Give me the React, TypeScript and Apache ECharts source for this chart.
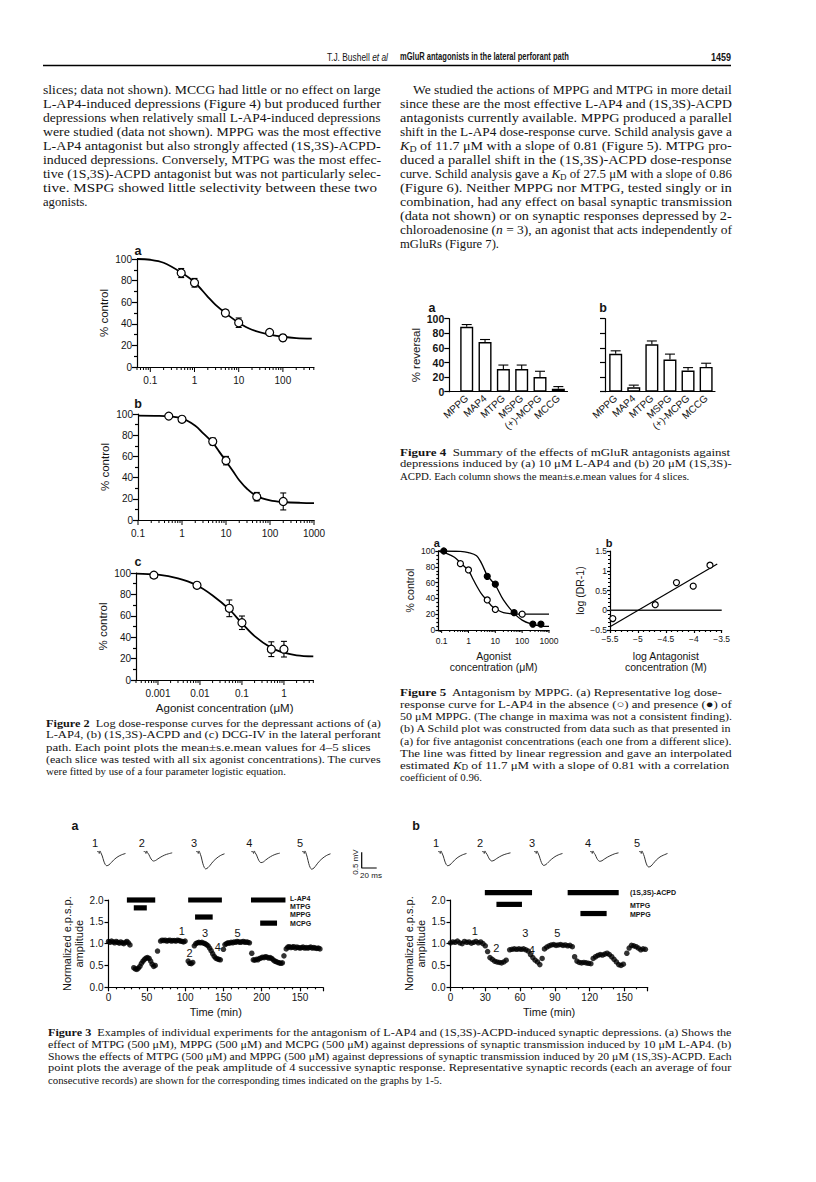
import React, { useEffect, useRef } from "react";
import * as echarts from "echarts";

const SERIF = '"Liberation Serif","Times New Roman",Times,serif';
const SANS = '"Liberation Sans",Arial,Helvetica,sans-serif';
const INK = "#141414";

/* ---------------- page text ---------------- */
const BODY_LEFT = [
  "slices; data not shown). MCCG had little or no effect on large",
  "L-AP4-induced depressions (Figure 4) but produced further",
  "depressions when relatively small L-AP4-induced depressions",
  "were studied (data not shown). MPPG was the most effective",
  "L-AP4 antagonist but also strongly affected (1S,3S)-ACPD-",
  "induced depressions. Conversely, MTPG was the most effec-",
  "tive (1S,3S)-ACPD antagonist but was not particularly selec-",
  "tive. MSPG showed little selectivity between these two",
  "agonists.",
];
const BODY_RIGHT = [
  "We studied the actions of MPPG and MTPG in more detail",
  "since these are the most effective L-AP4 and (1S,3S)-ACPD",
  "antagonists currently available. MPPG produced a parallel",
  "shift in the L-AP4 dose-response curve. Schild analysis gave a",
  "{i|K}{s|D} of 11.7 μM with a slope of 0.81 (Figure 5). MTPG pro-",
  "duced a parallel shift in the (1S,3S)-ACPD dose-response",
  "curve. Schild analysis gave a {i|K}{s|D} of 27.5 μM with a slope of 0.86",
  "(Figure 6). Neither MPPG nor MTPG, tested singly or in",
  "combination, had any effect on basal synaptic transmission",
  "(data not shown) or on synaptic responses depressed by 2-",
  "chloroadenosine ({i|n} = 3), an agonist that acts independently of",
  "mGluRs (Figure 7).",
];
const CAP2 = [
  "{b|Figure 2}  Log dose-response curves for the depressant actions of (a)",
  "L-AP4, (b) (1S,3S)-ACPD and (c) DCG-IV in the lateral perforant",
  "path. Each point plots the mean±s.e.mean values for 4–5 slices",
  "(each slice was tested with all six agonist concentrations). The curves",
  "were fitted by use of a four parameter logistic equation.",
];
const CAP4 = [
  "{b|Figure 4}  Summary of the effects of mGluR antagonists against",
  "depressions induced by (a) 10 μM L-AP4 and (b) 20 μM (1S,3S)-",
  "ACPD. Each column shows the mean±s.e.mean values for 4 slices.",
];
const CAP5 = [
  "{b|Figure 5}  Antagonism by MPPG. (a) Representative log dose-",
  "response curve for L-AP4 in the absence (○) and presence (●) of",
  "50 μM MPPG. (The change in maxima was not a consistent finding).",
  "(b) A Schild plot was constructed from data such as that presented in",
  "(a) for five antagonist concentrations (each one from a different slice).",
  "The line was fitted by linear regression and gave an interpolated",
  "estimated {i|K}{s|D} of 11.7 μM with a slope of 0.81 with a correlation",
  "coefficient of 0.96.",
];
const CAP3 = [
  "{b|Figure 3}  Examples of individual experiments for the antagonism of L-AP4 and (1S,3S)-ACPD-induced synaptic depressions. (a) Shows the",
  "effect of MTPG (500 μM), MPPG (500 μM) and MCPG (500 μM) against depressions of synaptic transmission induced by 10 μM L-AP4. (b)",
  "Shows the effects of MTPG (500 μM) and MPPG (500 μM) against depressions of synaptic transmission induced by 20 μM (1S,3S)-ACPD. Each",
  "point plots the average of the peak amplitude of 4 successive synaptic response. Representative synaptic records (each an average of four",
  "consecutive records) are shown for the corresponding times indicated on the graphs by 1-5.",
];

/* ---------------- Figure 2 data ---------------- */
const F2A_CONC = [0.5, 1, 5, 10, 50, 100];
const F2A_MEAN = [87, 78, 50, 41, 32, 27];
const F2A_SEM = [4.2, 4, 3, 4.4, 2.2, 2.8];
const F2A_CURVE = [[0.05, 100], [0.1, 99.3], [0.2, 96.5], [0.5, 87.5], [1, 78.5], [2, 65], [3, 57.5], [5, 50], [10, 41], [20, 34.5], [50, 30], [100, 28], [200, 26.8], [450, 26.3]];
const F2A_XLABELS = [0.1, 1, 10, 100];

const F2B_CONC = [0.5, 1, 5, 10, 50, 200];
const F2B_MEAN = [98, 95, 74, 56, 22, 17.5];
const F2B_SEM = [1.2, 1.2, 3.3, 4, 4, 8];
const F2B_CURVE = [[0.1, 98.5], [0.3, 98.3], [0.5, 97.8], [1, 95.8], [2, 89], [3, 82], [5, 73], [7, 64.5], [10, 55.5], [15, 45], [20, 37.5], [30, 29.5], [50, 22.5], [100, 18.5], [200, 17], [500, 16.2], [1000, 16]];
const F2B_XLABELS = [0.1, 1, 10, 100, 1000];

const F2C_CONC = [0.0008, 0.0085, 0.05, 0.1, 0.5, 1];
const F2C_MEAN = [98, 88.5, 67, 53.5, 28.8, 28.8];
const F2C_SEM = [1, 1.2, 7.8, 6.3, 6.9, 7.3];
const F2C_CURVE = [[0.0003, 99.5], [0.001, 98.5], [0.003, 95], [0.008, 89], [0.02, 79], [0.05, 66], [0.1, 53], [0.2, 41], [0.5, 30], [1, 25.5], [2, 23], [5, 22]];
const F2C_XLABELS = [0.001, 0.01, 0.1, 1];

/* ---------------- Figure 4 data ---------------- */
const F4_DRUGS = ["MPPG", "MAP4", "MTPG", "MSPG", "(+)-MCPG", "MCCG"];
const F4A_MEAN = [89, 68, 31, 31, 20, 4];
const F4A_SEM = [3, 3.5, 5.5, 5.5, 8, 3];
const F4B_MEAN = [52, 6, 65, 44, 29, 34];
const F4B_SEM = [4, 3, 4.5, 7.5, 4, 5];

/* ---------------- Figure 5 data ---------------- */
const F5A_OPEN_CONC = [0.5, 1, 5, 10, 100];
const F5A_OPEN_Y = [84, 76, 38, 26, 20];
const F5A_FILLED_CONC = [0.12, 5, 10, 50, 250, 500];
const F5A_FILLED_Y = [100, 68, 58, 22, 7.5, 7.5];
const F5A_OPEN_CURVE = [[0.075, 100], [0.15, 97], [0.3, 92], [0.5, 85], [1, 75], [1.5, 64], [2, 56], [3, 46], [5, 37], [7, 31], [10, 27], [20, 22], [50, 20.3], [100, 20], [1000, 20]];
const F5A_FILLED_CURVE = [[0.075, 100], [0.5, 99.5], [1, 98], [2, 94], [3, 85], [5, 69], [7, 63], [10, 57], [20, 38], [50, 21], [100, 12.5], [200, 8], [500, 5], [1000, 4.5]];
const F5A_XLABELS = [0.1, 1, 10, 100, 1000];
const F5B_LOGB = [-5.45, -4.69, -4.31, -4.01, -3.71];
const F5B_LOGDR = [-0.21, 0.14, 0.7, 0.61, 1.14];
const F5B_FIT = [[-5.5, -0.42], [-3.58, 1.17]];
const F5B_ZERO = [[-5.5, 0], [-3.5, 0]];

/* ---------------- Figure 3 data ---------------- */
const F3A_POINTS = [
  [0, 1.05], [2, 1.03], [4, 1.06], [6, 1.04], [8, 1.02], [10, 1.05], [12, 1.03], [14, 1.01], [16, 1.04], [18, 1.02], [20, 1.0], [22, 1.03], [24, 1.05], [26, 1.02], [28, 0.97],
  [33, 0.45], [35, 0.42], [37, 0.41], [39, 0.44], [41, 0.48], [43, 0.55], [45, 0.6], [47, 0.64], [49, 0.67], [51, 0.68], [53, 0.66], [55, 0.6], [57, 0.53], [59, 0.48], [61, 0.5],
  [64, 0.83],
  [68, 1.06], [70, 1.08], [72, 1.07], [74, 1.08], [76, 1.06], [78, 1.07], [80, 1.08], [82, 1.06], [84, 1.07], [86, 1.07], [88, 1.06], [90, 1.08], [92, 1.07], [94, 1.06], [96, 1.05], [98, 1.04], [100, 1.06],
  [104, 0.6], [106, 0.55], [108, 0.54], [110, 0.57],
  [112, 0.95], [114, 1.0], [116, 1.02], [118, 1.03], [120, 1.02], [122, 1.03], [124, 1.01], [126, 1.0], [128, 0.98], [130, 0.95], [132, 0.9], [134, 0.84], [136, 0.77], [138, 0.71], [140, 0.67], [142, 0.65], [144, 0.64], [146, 0.63],
  [150, 0.87],
  [152, 0.98], [154, 1.0], [156, 1.02], [158, 1.01], [160, 1.03], [162, 1.02], [164, 1.04], [166, 1.03], [168, 1.05], [170, 1.04], [172, 1.03], [174, 1.04], [176, 1.05], [178, 1.03], [180, 1.04], [182, 1.03], [184, 1.02],
  [187, 0.78],
  [189, 0.63], [191, 0.62], [193, 0.64], [195, 0.63], [197, 0.66], [199, 0.67], [201, 0.69], [203, 0.68], [205, 0.7], [207, 0.69], [209, 0.67], [211, 0.68], [213, 0.66],
  [215, 0.63], [217, 0.6], [219, 0.59], [221, 0.57], [223, 0.56], [225, 0.55], [227, 0.56],
  [229, 0.72],
  [232, 0.88], [234, 0.92], [236, 0.93], [238, 0.91], [240, 0.92], [242, 0.93], [244, 0.9], [246, 0.92], [248, 0.91], [250, 0.9], [252, 0.91], [254, 0.92], [256, 0.9], [258, 0.91], [260, 0.9], [262, 0.91], [264, 0.92], [266, 0.9], [268, 0.91], [270, 0.9], [272, 0.89], [274, 0.9], [276, 0.88],
];
const F3A_XTICKS = [0, 50, 100, 150, 200, 250];
const F3A_XLABELS = ["0", "50", "100", "150", "200", "150"];
const F3A_BARS = [[24, 61, 2.0], [104, 148, 2.0], [186, 231, 2.0], [33, 50, 1.82], [113, 136, 1.61], [198, 220, 1.47]];
const F3A_LEGEND = ["L-AP4", "MTPG", "MPPG", "MCPG"];
const F3A_LEGEND_Y = [2.03, 1.845, 1.66, 1.475];
const F3A_LEGEND_T = 237;
const F3A_MARKS = ["1", "2", "3", "4", "5"];
const F3A_MARK_T = [95.7, 105.7, 126, 142.7, 168.4];
const F3A_MARK_Y = [1.3, 0.79, 1.25, 0.93, 1.25];

const F3B_POINTS = [
  [0, 1.02], [2, 1.04], [4, 1.03], [6, 1.06], [8, 1.02], [10, 1.0], [12, 1.05], [14, 1.03], [16, 1.04], [18, 1.01], [20, 1.03], [22, 1.05], [24, 1.02], [26, 1.04], [28, 1.0],
  [30, 0.95], [32, 0.82], [34, 0.68], [36, 0.64], [38, 0.6], [40, 0.58], [42, 0.57], [44, 0.56], [46, 0.58], [48, 0.62],
  [51, 0.86], [53, 0.87], [55, 0.88], [57, 0.87], [59, 0.88], [61, 0.87], [63, 0.88], [65, 0.86],
  [67, 0.83], [69, 0.75], [71, 0.68], [73, 0.62], [75, 0.58], [77, 0.52], [79, 0.66],
  [81, 0.88], [83, 0.92], [85, 0.95], [87, 0.97], [89, 0.98], [91, 0.96], [93, 0.97], [95, 0.98], [97, 0.96], [99, 0.97], [101, 0.95], [103, 0.96], [105, 0.93],
  [107, 0.7], [109, 0.6], [111, 0.57], [113, 0.56], [115, 0.57], [117, 0.56], [119, 0.55], [121, 0.54],
  [123, 0.66], [125, 0.7], [127, 0.73], [129, 0.75], [131, 0.74], [133, 0.76], [135, 0.78], [137, 0.75], [139, 0.7], [141, 0.64], [143, 0.58], [145, 0.52], [147, 0.5], [149, 0.53],
  [152, 0.78], [154, 0.9], [156, 0.96], [158, 0.95], [160, 0.93], [162, 0.9], [164, 0.86], [166, 0.88], [168, 0.87],
];
const F3B_XTICKS = [0, 30, 60, 90, 120, 150];
const F3B_XLABELS = ["0", "30", "60", "90", "120", "150"];
const F3B_BARS = [[29.6, 70.3, 2.17], [101, 145, 2.17], [39.6, 61.6, 1.9], [112, 134.6, 1.69]];
const F3B_LEGEND = ["{n|(1}{b|S}{n|,3}{b|S}{n|)-ACPD}", "MTPG", "MPPG"];
const F3B_LEGEND_Y = [2.17, 1.87, 1.66];
const F3B_LEGEND_T = 154.7;
const F3B_MARKS = ["1", "2", "3", "4", "5"];
const F3B_MARK_T = [21, 39.5, 64.5, 70, 92];
const F3B_MARK_Y = [1.3, 0.9, 1.24, 0.86, 1.24];

/* synaptic records (ms, mV) */
const TRACE_A1 = [[0, 0], [2, 0], [3, -0.06], [4, 0.02], [5, -0.03], [7, -0.14], [9, -0.3], [11, -0.41], [13, -0.45], [16, -0.42], [19, -0.35], [23, -0.25], [28, -0.16], [33, -0.1], [38, -0.06]];
const TRACE_A2 = [[0, 0], [2, 0], [3, -0.06], [4, 0.02], [5, -0.03], [7, -0.1], [9, -0.2], [11, -0.27], [13, -0.3], [16, -0.28], [19, -0.23], [23, -0.17], [28, -0.11], [33, -0.07], [38, -0.04]];
const TRACE_A3 = [[0, 0], [2, 0], [3, -0.06], [4, 0.02], [5, -0.03], [7, -0.17], [9, -0.37], [11, -0.5], [13, -0.55], [16, -0.51], [19, -0.43], [23, -0.31], [28, -0.2], [33, -0.12], [38, -0.07]];
const TRACE_A4 = [[0, 0], [2, 0], [3, -0.06], [4, 0.02], [5, -0.03], [7, -0.11], [9, -0.23], [11, -0.32], [13, -0.35], [16, -0.33], [19, -0.27], [23, -0.2], [28, -0.13], [33, -0.08], [38, -0.05]];
const TRACE_A5 = [[0, 0], [2, 0], [3, -0.06], [4, 0.02], [5, -0.03], [7, -0.18], [9, -0.38], [11, -0.51], [13, -0.56], [16, -0.52], [19, -0.43], [23, -0.31], [28, -0.2], [33, -0.12], [38, -0.07]];
const TRACE_B1 = [[0, 0], [2, 0], [3, -0.06], [4, 0.02], [5, -0.03], [7, -0.14], [9, -0.3], [11, -0.41], [13, -0.45], [16, -0.42], [19, -0.35], [23, -0.25], [28, -0.16], [33, -0.1], [38, -0.06]];
const TRACE_B2 = [[0, 0], [2, 0], [3, -0.06], [4, 0.02], [5, -0.03], [7, -0.1], [9, -0.2], [11, -0.27], [13, -0.3], [16, -0.28], [19, -0.23], [23, -0.17], [28, -0.11], [33, -0.07], [38, -0.04]];
const TRACE_B3 = [[0, 0], [2, 0], [3, -0.06], [4, 0.02], [5, -0.03], [7, -0.14], [9, -0.29], [11, -0.4], [13, -0.44], [16, -0.41], [19, -0.34], [23, -0.25], [28, -0.16], [33, -0.1], [38, -0.06]];
const TRACE_B4 = [[0, 0], [2, 0], [3, -0.06], [4, 0.02], [5, -0.03], [7, -0.1], [9, -0.21], [11, -0.28], [13, -0.31], [16, -0.29], [19, -0.24], [23, -0.18], [28, -0.12], [33, -0.07], [38, -0.04]];
const TRACE_B5 = [[0, 0], [2, 0], [3, -0.06], [4, 0.02], [5, -0.03], [7, -0.15], [9, -0.33], [11, -0.45], [13, -0.49], [16, -0.46], [19, -0.38], [23, -0.27], [28, -0.17], [33, -0.11], [38, -0.06]];
const SCALE_BAR = [[0, 0.5], [0, 0], [20, 0]];

/* ---------------- helpers ---------------- */
const AX = { color: "#000", width: 1.2 };

let measureCtx: any = null;
function textWidth(line: string, size: number, family: string, weight = "normal") {
  if (!measureCtx) measureCtx = document.createElement("canvas").getContext("2d");
  let total = 0;
  const re = /\{(\w)\|([^}]*)\}/g;
  let last = 0;
  let m: any;
  const seg = (t: string, st: string, w: string, sz: number) => {
    measureCtx.font = `${st} ${w} ${sz}px ${family}`;
    total += measureCtx.measureText(t).width;
  };
  while ((m = re.exec(line))) {
    if (m.index > last) seg(line.slice(last, m.index), "normal", weight, size);
    const tag = m[1];
    if (tag === "b") seg(m[2], "normal", "bold", size);
    else if (tag === "i") seg(m[2], "italic", weight, size);
    else if (tag === "s") seg(m[2], "normal", weight, size * 0.7);
    else seg(m[2], "normal", weight, size);
    last = m.index + m[0].length;
  }
  if (last < line.length) seg(line.slice(last), "normal", weight, size);
  return total;
}

const labelFor = (v: number, list: number[]) => {
  const hit = list.find((l) => Math.abs(Math.log10(l) - Math.log10(v)) < 1e-6);
  return hit === undefined ? "" : String(hit);
};

function logTicks(min: number, max: number) {
  const out: number[][] = [];
  for (let e = Math.floor(Math.log10(min)) - 1; e <= Math.ceil(Math.log10(max)); e++) {
    for (let m = 1; m <= 9; m++) {
      const v = m * Math.pow(10, e);
      if (v >= min * 0.999 && v <= max * 1.001) out.push([v, 0, m === 1 ? 1 : 0]);
    }
  }
  return out;
}

function logAxis(min: number, max: number, labels: number[], fontSize: number, margin: number, extra: any = {}) {
  return {
    type: "log", logBase: 10, min, max,
    axisLine: { show: true, onZero: false, lineStyle: AX },
    axisTick: { show: false }, minorTick: { show: false }, splitLine: { show: false },
    axisLabel: { margin, fontSize, fontFamily: SANS, color: INK, formatter: (v: number) => labelFor(v, labels) },
    ...extra,
  };
}

function valAxis(o: any) {
  const ax: any = {
    type: "value", min: o.min, max: o.max, interval: o.interval,
    axisLine: { show: true, onZero: false, lineStyle: AX },
    axisTick: { show: true, length: o.tick ?? 4, lineStyle: AX },
    minorTick: { show: !!o.minor, splitNumber: o.minor || 2, length: o.minorLen ?? 2, lineStyle: AX },
    splitLine: { show: false }, minorSplitLine: { show: false },
    axisLabel: { show: o.labels !== false, margin: o.margin ?? 5, fontSize: o.fontSize ?? 10, fontFamily: SANS, color: INK, fontWeight: o.bold ? "bold" : "normal", showMaxLabel: o.showMax ?? true },
  };
  if (o.formatter) ax.axisLabel.formatter = o.formatter;
  if (o.name) {
    ax.name = o.name;
    ax.nameLocation = "middle";
    ax.nameGap = o.nameGap;
    if (o.nameRotate !== undefined) ax.nameRotate = o.nameRotate;
    ax.nameTextStyle = { fontSize: o.nameSize ?? 11, fontFamily: SANS, color: INK, lineHeight: o.nameLH ?? 13 };
  }
  return ax;
}

const hidden = (min: number, max: number) => ({ type: "value", show: false, min, max });

function tickSeries(gi: number, data: number[][], majorLen: number, minorLen: number) {
  return {
    type: "custom", xAxisIndex: gi, yAxisIndex: gi, clip: false, silent: true, z: 3, data,
    renderItem: (_p: any, api: any) => {
      const c = api.coord([api.value(0), api.value(1)]);
      const len = api.value(2) ? majorLen : minorLen;
      return { type: "line", shape: { x1: c[0], y1: c[1], x2: c[0], y2: c[1] + len }, style: { stroke: "#000", lineWidth: 1 } };
    },
  };
}

function errSeries(gi: number, xs: number[], ys: number[], es: number[], cap: number, upOnly: boolean) {
  return {
    type: "custom", xAxisIndex: gi, yAxisIndex: gi, clip: false, silent: true, z: 4,
    data: xs.map((x, i) => [x, ys[i], es[i]]),
    renderItem: (_p: any, api: any) => {
      const x = api.value(0), m = api.value(1), s = api.value(2);
      const top = api.coord([x, m + s]);
      const bot = api.coord([x, upOnly ? m : m - s]);
      const st = { stroke: "#000", lineWidth: 1.1 };
      const kids: any[] = [
        { type: "line", shape: { x1: top[0], y1: top[1], x2: bot[0], y2: bot[1] }, style: st },
        { type: "line", shape: { x1: top[0] - cap, y1: top[1], x2: top[0] + cap, y2: top[1] }, style: st },
      ];
      if (!upOnly) kids.push({ type: "line", shape: { x1: bot[0] - cap, y1: bot[1], x2: bot[0] + cap, y2: bot[1] }, style: st });
      return { type: "group", children: kids };
    },
  };
}

function circles(gi: number, xs: number[], ys: number[], size: number, filled: boolean, z = 6) {
  return {
    type: "scatter", xAxisIndex: gi, yAxisIndex: gi, silent: true, z,
    data: xs.map((x, i) => [x, ys[i]]),
    symbol: "circle", symbolSize: size,
    itemStyle: { color: filled ? "#000" : "#fff", borderColor: "#000", borderWidth: 1.2, opacity: 1 },
  };
}

function curve(gi: number, data: number[][], width: number) {
  return {
    type: "line", xAxisIndex: gi, yAxisIndex: gi, silent: true, z: 2, data, smooth: 0.35,
    showSymbol: false, symbol: "none", lineStyle: { color: "#000", width },
  };
}

function textSeries(gi: number, xs: number[], ys: number[], labels: string[], style: any, scaleX = 1) {
  return {
    type: "custom", xAxisIndex: gi, yAxisIndex: gi, clip: false, silent: true, z: 7,
    data: xs.map((x, i) => [x, ys[i]]),
    renderItem: (p: any, api: any) => {
      const c = api.coord([api.value(0), api.value(1)]);
      return { type: "text", x: c[0], y: c[1], scaleX, style: { text: labels[p.dataIndex], ...style } };
    },
  };
}

function barsSeries(gi: number, bars: number[][]) {
  return {
    type: "custom", xAxisIndex: gi, yAxisIndex: gi, clip: false, silent: true, z: 4, data: bars,
    encode: { x: [0, 1], y: 2 },
    renderItem: (_p: any, api: any) => {
      const a = api.coord([api.value(0), api.value(2)]);
      const b = api.coord([api.value(1), api.value(2)]);
      return { type: "rect", shape: { x: a[0], y: a[1] - 2.6, width: b[0] - a[0], height: 5.2 }, style: { fill: "#000" } };
    },
  };
}

function T(x: number, y: number, text: string, o: any = {}) {
  const style: any = {
    text, fontSize: o.size ?? 12, fontFamily: o.family ?? SERIF, fontWeight: o.weight ?? "normal",
    fontStyle: o.fstyle ?? "normal", fill: INK, align: o.align ?? "left", verticalAlign: "middle",
  };
  if (o.rich) style.rich = o.rich;
  return { type: "text", x, y, rotation: o.rot ?? 0, scaleX: o.sx ?? 1, silent: true, z: 10, style };
}

function richFor(size: number) {
  return {
    b: { fontWeight: "bold", fontSize: size, fontFamily: SERIF, fill: INK },
    i: { fontStyle: "italic", fontSize: size, fontFamily: SERIF, fill: INK },
    s: { fontSize: size * 0.7, fontFamily: SERIF, fill: INK, padding: [size * 0.45, 0, 0, 0] },
  };
}

/* justified paragraph lines: each line is stretched to the column width (last line left natural) */
function paragraph(graphic: any[], lines: string[], x: number, width: number, y0: number, lead: number, size: number, indent = 0) {
  const rich = richFor(size);
  lines.forEach((line, k) => {
    const lx = k === 0 ? x + indent : x;
    const target = k === 0 ? width - indent : width;
    const w = textWidth(line, size, SERIF);
    let sx = target / w;
    if (k === lines.length - 1) sx = Math.min(1, sx);
    sx = Math.max(0.86, Math.min(1.2, sx));
    graphic.push(T(lx, y0 + lead * k, line, { size, rich, sx }));
  });
}

function buildOption() {
  const grid: any[] = [], xAxis: any[] = [], yAxis: any[] = [], series: any[] = [], graphic: any[] = [];
  const add = (rect: any, xa: any, ya: any) => {
    const i = grid.length;
    grid.push({ ...rect, containLabel: false });
    xAxis.push({ gridIndex: i, ...xa });
    yAxis.push({ gridIndex: i, ...ya });
    return i;
  };
  const letter = (x: number, y: number, s: string, size = 12.5) => graphic.push(T(x, y, s, { family: SANS, weight: "bold", size, align: "center" }));

  /* ---------- Figure 2 ---------- */
  const f2 = [
    { rect: { left: 137, top: 259, width: 176.8, height: 108 }, min: 0.05, max: 500, labels: F2A_XLABELS, conc: F2A_CONC, mean: F2A_MEAN, sem: F2A_SEM, curve: F2A_CURVE, title: false },
    { rect: { left: 138, top: 414, width: 176, height: 106 }, min: 0.1, max: 1000, labels: F2B_XLABELS, conc: F2B_CONC, mean: F2B_MEAN, sem: F2B_SEM, curve: F2B_CURVE, title: false },
    { rect: { left: 136, top: 573, width: 177.3, height: 107 }, min: 0.0003, max: 5, labels: F2C_XLABELS, conc: F2C_CONC, mean: F2C_MEAN, sem: F2C_SEM, curve: F2C_CURVE, title: true },
  ];
  f2.forEach((p) => {
    const extra: any = p.title
      ? { name: "Agonist concentration (μM)", nameLocation: "middle", nameGap: 22, nameTextStyle: { fontSize: 11.5, fontFamily: SANS, color: INK } }
      : {};
    const gi = add(p.rect, logAxis(p.min, p.max, p.labels, 10, 8, extra),
      valAxis({ min: 0, max: 100, interval: 20, minor: 2, tick: 5, minorLen: 3, fontSize: 10, margin: 5, name: "% control", nameGap: 27, nameRotate: 90, nameSize: 11.5 }));
    series.push(tickSeries(gi, logTicks(p.min, p.max), 5, 3));
    series.push(curve(gi, p.curve, 1.8));
    series.push(errSeries(gi, p.conc, p.mean, p.sem, 3, false));
    series.push(circles(gi, p.conc, p.mean, 8, false));
  });
  letter(138, 251, "a");
  letter(138, 404, "b");
  letter(138, 562, "c");

  /* ---------- Figure 4 ---------- */
  const f4 = [
    { left: 449.3, width: 118.2, min: -0.95, max: 5.5, lblLeft: 457.5, lblWidth: 110, mean: F4A_MEAN, sem: F4A_SEM, labels: true },
    { left: 605, width: 110, min: -0.59, max: 5.49, lblLeft: 606.7, lblWidth: 108.4, mean: F4B_MEAN, sem: F4B_SEM, labels: false },
  ];
  f4.forEach((p) => {
    const gi = add({ left: p.left, top: 318.7, width: p.width, height: 73 },
      { type: "value", min: p.min, max: p.max, axisLine: { show: true, onZero: false, lineStyle: AX }, axisTick: { show: false }, axisLabel: { show: false }, splitLine: { show: false } },
      valAxis({ min: 0, max: 100, interval: 20, tick: 5, fontSize: 10.5, bold: true, margin: 5, labels: p.labels,
        name: p.labels ? "% reversal" : undefined, nameGap: 23, nameRotate: 90, nameSize: 11.5 }));
    const idx = F4_DRUGS.map((_d, i) => i);
    series.push({
      type: "bar", xAxisIndex: gi, yAxisIndex: gi, silent: true, z: 3, barWidth: 13,
      data: idx.map((i) => [i, p.mean[i]]),
      itemStyle: { color: "#fff", borderColor: "#000", borderWidth: 1.4 },
    });
    series.push(errSeries(gi, idx, p.mean, p.sem, 5, true));
    add({ left: p.lblLeft, top: 391.7, width: p.lblWidth, height: 1 },
      { type: "category", data: F4_DRUGS, boundaryGap: true, axisLine: { show: false }, axisTick: { show: false }, splitLine: { show: false },
        axisLabel: { rotate: 42, interval: 0, margin: 4, fontSize: 10, fontFamily: SANS, color: INK } },
      hidden(0, 1));
  });
  letter(432, 308, "a");
  letter(603, 308, "b");

  /* ---------- Figure 5 ---------- */
  {
    const gi = add({ left: 438.3, top: 551, width: 110.7, height: 79 },
      logAxis(0.075, 1000, F5A_XLABELS, 8.5, 6, { name: "Agonist\nconcentration (μM)", nameLocation: "middle", nameGap: 20, nameTextStyle: { fontSize: 10.5, fontFamily: SANS, color: INK, lineHeight: 11 } }),
      valAxis({ min: 0, max: 100, interval: 20, minor: 4, tick: 3, minorLen: 2, fontSize: 8.5, margin: 3, name: "% control", nameGap: 22, nameRotate: 90, nameSize: 10.5 }));
    series.push(tickSeries(gi, logTicks(0.075, 1000), 3, 2));
    series.push(curve(gi, F5A_OPEN_CURVE, 1.3));
    series.push(curve(gi, F5A_FILLED_CURVE, 1.3));
    series.push(circles(gi, F5A_OPEN_CONC, F5A_OPEN_Y, 6, false));
    series.push(circles(gi, F5A_FILLED_CONC, F5A_FILLED_Y, 6, true, 7));
  }
  {
    const minus = (v: number) => String(v).replace("-", "−");
    const gi = add({ left: 610, top: 551, width: 111.7, height: 79 },
      valAxis({ min: -5.5, max: -3.5, interval: 0.5, minor: 5, tick: 3, minorLen: 2, fontSize: 8.5, margin: 4, formatter: minus,
        name: "log Antagonist\nconcentration (M)", nameGap: 20, nameSize: 10.5, nameLH: 11 }),
      valAxis({ min: -0.5, max: 1.5, interval: 0.5, minor: 5, tick: 3, minorLen: 2, fontSize: 8.5, margin: 3, formatter: minus,
        name: "log (DR-1)", nameGap: 24, nameRotate: 90, nameSize: 10.5 }));
    series.push({ type: "line", xAxisIndex: gi, yAxisIndex: gi, silent: true, z: 2, data: F5B_ZERO, showSymbol: false, symbol: "none", lineStyle: { color: "#222", width: 1.6 } });
    series.push({ type: "line", xAxisIndex: gi, yAxisIndex: gi, silent: true, z: 3, data: F5B_FIT, showSymbol: false, symbol: "none", lineStyle: { color: "#000", width: 1.2 } });
    series.push(circles(gi, F5B_LOGB, F5B_LOGDR, 6, false));
  }
  letter(436.7, 542.7, "a", 11);
  letter(609, 542.7, "b", 11);

  /* ---------- Figure 3 ---------- */
  const f3 = [
    { left: 108.5, width: 214.5, max: 280, ticks: F3A_XTICKS, labels: F3A_XLABELS, interval: 50, pts: F3A_POINTS, bars: F3A_BARS,
      leg: F3A_LEGEND, legY: F3A_LEGEND_Y, legT: F3A_LEGEND_T, marks: F3A_MARKS, mT: F3A_MARK_T, mY: F3A_MARK_Y },
    { left: 450.5, width: 197.2, max: 170, ticks: F3B_XTICKS, labels: F3B_XLABELS, interval: 30, pts: F3B_POINTS, bars: F3B_BARS,
      leg: F3B_LEGEND, legY: F3B_LEGEND_Y, legT: F3B_LEGEND_T, marks: F3B_MARKS, mT: F3B_MARK_T, mY: F3B_MARK_Y },
  ];
  f3.forEach((p) => {
    const xf = (v: number) => {
      const i = p.ticks.indexOf(Math.round(v));
      return i >= 0 && Math.abs(v - Math.round(v)) < 1e-6 ? p.labels[i] : "";
    };
    const gi = add({ left: p.left, top: 900, width: p.width, height: 87.3 },
      valAxis({ min: 0, max: p.max, interval: p.interval, tick: 4, minor: p.interval === 50 ? 5 : 3, minorLen: 2, fontSize: 10, margin: 5, formatter: xf, showMax: false,
        name: "Time (min)", nameGap: 18, nameSize: 11 }),
      valAxis({ min: 0, max: 2, interval: 0.5, tick: 4, fontSize: 10, margin: 5, formatter: (v: number) => v.toFixed(1),
        name: "Normalized e.p.s.p.\namplitude", nameGap: 22, nameRotate: 90, nameSize: 11, nameLH: 12.5 }));
    series.push({
      type: "scatter", xAxisIndex: gi, yAxisIndex: gi, silent: true, z: 5, data: p.pts,
      symbol: "circle", symbolSize: 5.5, itemStyle: { color: "#000" },
    });
    series.push(barsSeries(gi, p.bars));
    const legStyle = { fontSize: 8, lineHeight: 8, fontFamily: SANS, fontWeight: "bold", fill: INK, align: "left", verticalAlign: "middle",
      rich: { n: { fontSize: 8, lineHeight: 8, fontFamily: SANS, fontWeight: "bold", fill: INK }, b: { fontSize: 8, lineHeight: 8, fontFamily: SANS, fontWeight: 900, fill: INK } } };
    series.push(textSeries(gi, p.leg.map(() => p.legT), p.legY, p.leg, legStyle, 0.88));
    series.push(textSeries(gi, p.mT, p.mY, p.marks, { fontSize: 11, fontFamily: SANS, fill: INK, align: "center", verticalAlign: "middle" }));
  });
  letter(75, 826, "a");
  letter(416, 826, "b");

  /* synaptic records */
  const traceSets = [
    { xs: [95, 141.7, 194, 249.3, 300], traces: [TRACE_A1, TRACE_A2, TRACE_A3, TRACE_A4, TRACE_A5] },
    { xs: [436, 480, 532, 588, 637], traces: [TRACE_B1, TRACE_B2, TRACE_B3, TRACE_B4, TRACE_B5] },
  ];
  traceSets.forEach((set) => {
    set.traces.forEach((tr, k) => {
      const gi = add({ left: set.xs[k] + 2, top: 850, width: 30, height: 23 }, hidden(0, 40), hidden(-0.68, 0.05));
      series.push({ type: "line", xAxisIndex: gi, yAxisIndex: gi, silent: true, data: tr, showSymbol: false, symbol: "none", smooth: 0.3, lineStyle: { color: "#333", width: 1 } });
      graphic.push(T(set.xs[k], 843, String(k + 1), { family: SANS, size: 11, align: "center" }));
    });
  });
  {
    const gi = add({ left: 361.7, top: 846.6, width: 30, height: 23 }, hidden(0, 40), hidden(-0.05, 0.68));
    series.push({ type: "line", xAxisIndex: gi, yAxisIndex: gi, silent: true, data: SCALE_BAR, showSymbol: false, symbol: "none", lineStyle: { color: "#000", width: 1.2 } });
    graphic.push(T(355.5, 862, "0.5 mV", { family: SANS, size: 8, align: "center", rot: Math.PI / 2 }));
    graphic.push(T(371, 875.5, "20 ms", { family: SANS, size: 8, align: "center" }));
  }

  /* ---------- page text ---------- */
  graphic.push(T(388, 57, "{n|T.J. Bushell }{i|et al}", { family: SANS, size: 10.5, align: "right", sx: 0.8,
    rich: { n: { fontFamily: SANS, fontSize: 10.5, fill: INK }, i: { fontFamily: SANS, fontSize: 10.5, fontStyle: "italic", fill: INK } } }));
  graphic.push(T(400, 57, "mGluR antagonists in the lateral perforant path", { family: SANS, size: 10.5, weight: "bold", sx: 0.72 }));
  graphic.push(T(731, 57, "1459", { family: SANS, size: 11, weight: "bold", align: "right", sx: 0.82 }));
  graphic.push({ type: "line", silent: true, shape: { x1: 43, y1: 65.5, x2: 731, y2: 65.5 }, style: { stroke: "#000", lineWidth: 1.3 } });

  paragraph(graphic, BODY_LEFT, 43, 338, 90, 14, 12.6);
  paragraph(graphic, BODY_RIGHT, 400, 332, 90, 14, 12.6, 13);

  paragraph(graphic, CAP2, 46, 335, 723, 12, 10.8);
  paragraph(graphic, CAP4, 400, 332, 452, 12, 10.8);
  paragraph(graphic, CAP5, 400, 332, 692, 12.2, 10.8);
  paragraph(graphic, CAP3, 48, 684, 1032, 12, 10.8);

  return {
    animation: false,
    backgroundColor: "#fff",
    textStyle: { fontFamily: SANS },
    grid, xAxis, yAxis, series,
    graphic,
  };
}

export default function App() {
  const ref = useRef<HTMLDivElement>(null);
  useEffect(() => {
    document.body.style.margin = "0";
    const chart = echarts.init(ref.current as HTMLDivElement, undefined, { renderer: "svg", width: 816, height: 1182 });
    chart.setOption(buildOption() as any);
    return () => chart.dispose();
  }, []);
  return <div ref={ref} style={{ width: 816, height: 1182, background: "#fff" }} />;
}
